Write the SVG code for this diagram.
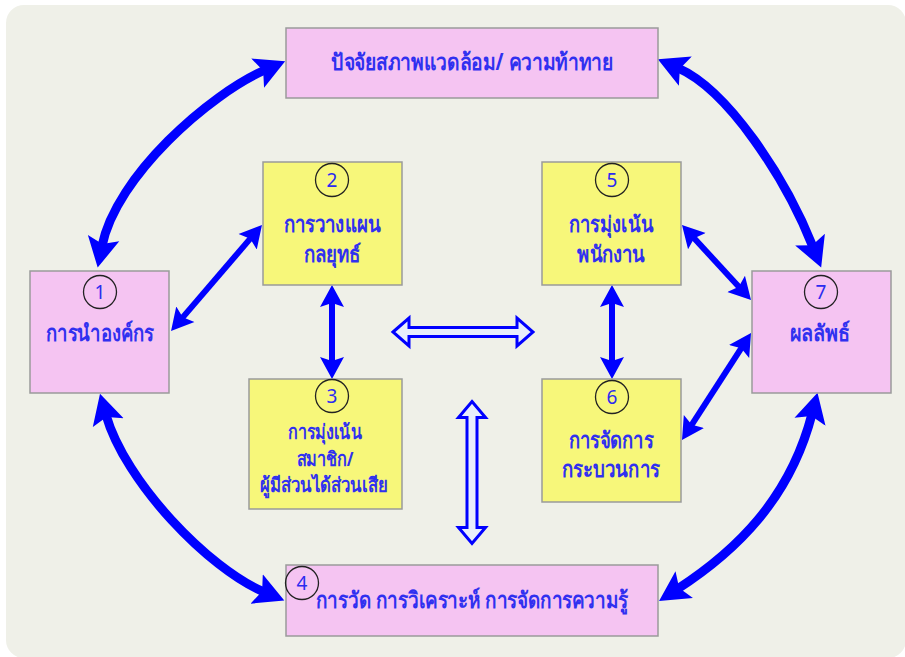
<svg xmlns="http://www.w3.org/2000/svg" width="905" height="657" viewBox="0 0 905 657">
  <style>
    .bg { fill: #eff0e8; }
    .pink { fill: #f5c4f2; stroke: #9a9a9a; stroke-width: 1.5; }
    .yellow { fill: #f7f77a; stroke: #9a9a9a; stroke-width: 1.5; }
    .num { fill: none; stroke: #222222; stroke-width: 1.3; }
    .numt { font-family: "Noto Sans", "DejaVu Sans", sans-serif; font-size: 19px; fill: #2b2bf0; text-anchor: middle; }
    .lbl { font-family: "Noto Sans", "DejaVu Sans", sans-serif; font-size: 23px; font-weight: bold; fill: #3030f0; text-anchor: middle; }
    .lbl2 { font-family: "Noto Sans", "DejaVu Sans", sans-serif; font-size: 22px; font-weight: bold; fill: #3030f0; text-anchor: middle; }
    .lbl3 { font-family: "Noto Sans", "DejaVu Sans", sans-serif; font-size: 20px; font-weight: bold; fill: #3030f0; text-anchor: middle; }
    .big { fill: none; stroke: #0000ff; stroke-width: 9; marker-start: url(#headBig); marker-end: url(#headBig); }
    .small { fill: none; stroke: #0000ff; stroke-width: 6; marker-start: url(#headSmall); marker-end: url(#headSmall); }
    .hollow { fill: #e8eefc; stroke: #0000ff; stroke-width: 3; stroke-linejoin: miter; }
  </style>
  <defs>
    <marker id="headBig" markerUnits="userSpaceOnUse" markerWidth="32" markerHeight="34" viewBox="0 -17 32 34" refX="8" refY="0" orient="auto-start-reverse">
      <path d="M0,-16 L30,0 L0,16 L6,0 Z" fill="#0000ff"/>
    </marker>
    <marker id="headSmall" markerUnits="userSpaceOnUse" markerWidth="24" markerHeight="26" viewBox="0 -13 24 26" refX="5" refY="0" orient="auto-start-reverse">
      <path d="M0,-12 L22,0 L0,12 L4,0 Z" fill="#0000ff"/>
    </marker>
  </defs>

  <rect class="bg" x="6" y="5" width="900" height="653" rx="18"/>

  <g id="connectors">
    <path class="big" d="M102,246 C116,176 210,94 265,70"/>
    <path class="big" d="M678,68 C728,90 785,177 813,247"/>
    <path class="big" d="M106,415 C125,482 209,569 264,592"/>
    <path class="big" d="M812,414 C790,499 736,551 677.5,589"/>
    <path class="small" d="M182.1,318.1 L250.9,237.9"/>
    <path class="small" d="M332,302 L332,362"/>
    <path class="small" d="M612,302 L612,362"/>
    <path class="small" d="M693.5,237.5 L739.5,287.5"/>
    <path class="small" d="M691.2,425.7 L741.8,347.3"/>
    <path class="hollow" d="M393,332 L409,318 L409,327.5 L517,327.5 L517,318 L533,332 L517,346 L517,336.5 L409,336.5 L409,346 Z"/>
    <path class="hollow" d="M472,401.5 L485.5,417.5 L477,417.5 L477,527.5 L485.5,527.5 L472,543.5 L458.5,527.5 L467,527.5 L467,417.5 L458.5,417.5 Z"/>
  </g>

  <g id="node-top">
    <rect class="pink" x="286" y="28" width="372" height="70"/>
    <text class="lbl" x="472" y="70" textLength="282" lengthAdjust="spacingAndGlyphs">ปัจจัยสภาพแวดล้อม/ ความท้าทาย</text>
  </g>

  <g id="node-1">
    <rect class="pink" x="30" y="271" width="139" height="122"/>
    <circle class="num" cx="100" cy="292" r="16.5"/>
    <text class="numt" x="100" y="299">1</text>
    <text class="lbl" x="100" y="341" textLength="108" lengthAdjust="spacingAndGlyphs">การนำองค์กร</text>
  </g>

  <g id="node-2">
    <rect class="yellow" x="263" y="162" width="139" height="123"/>
    <circle class="num" cx="332" cy="180" r="16.5"/>
    <text class="numt" x="332" y="187">2</text>
    <text class="lbl2" x="332" y="232" textLength="97" lengthAdjust="spacingAndGlyphs">การวางแผน</text>
    <text class="lbl2" x="332" y="262" textLength="57" lengthAdjust="spacingAndGlyphs">กลยุทธ์</text>
  </g>

  <g id="node-3">
    <rect class="yellow" x="249" y="379" width="153" height="130"/>
    <circle class="num" cx="332" cy="396" r="16.5"/>
    <text class="numt" x="332" y="403">3</text>
    <text class="lbl3" x="325" y="439" textLength="74" lengthAdjust="spacingAndGlyphs">การมุ่งเน้น</text>
    <text class="lbl3" x="325" y="466" textLength="57" lengthAdjust="spacingAndGlyphs">สมาชิก/</text>
    <text class="lbl3" x="324" y="492" textLength="128" lengthAdjust="spacingAndGlyphs">ผู้มีส่วนได้ส่วนเสีย</text>
  </g>

  <g id="node-4">
    <rect class="pink" x="286" y="565" width="372" height="71"/>
    <circle class="num" cx="302" cy="583" r="16.5"/>
    <text class="numt" x="302" y="590">4</text>
    <text class="lbl" x="472" y="608" textLength="312" lengthAdjust="spacingAndGlyphs">การวัด การวิเคราะห์ การจัดการความรู้</text>
  </g>

  <g id="node-5">
    <rect class="yellow" x="542" y="162" width="139" height="123"/>
    <circle class="num" cx="612" cy="180" r="16.5"/>
    <text class="numt" x="612" y="187">5</text>
    <text class="lbl2" x="611" y="232" textLength="84" lengthAdjust="spacingAndGlyphs">การมุ่งเน้น</text>
    <text class="lbl2" x="611" y="262" textLength="68" lengthAdjust="spacingAndGlyphs">พนักงาน</text>
  </g>

  <g id="node-6">
    <rect class="yellow" x="542" y="379" width="139" height="123"/>
    <circle class="num" cx="612" cy="397" r="16.5"/>
    <text class="numt" x="612" y="404">6</text>
    <text class="lbl" x="611" y="448" textLength="85" lengthAdjust="spacingAndGlyphs">การจัดการ</text>
    <text class="lbl" x="611" y="477" textLength="98" lengthAdjust="spacingAndGlyphs">กระบวนการ</text>
  </g>

  <g id="node-7">
    <rect class="pink" x="752" y="271" width="139" height="122"/>
    <circle class="num" cx="821" cy="292" r="16.5"/>
    <text class="numt" x="821" y="299">7</text>
    <text class="lbl" x="820" y="341" textLength="60" lengthAdjust="spacingAndGlyphs">ผลลัพธ์</text>
  </g>
</svg>
